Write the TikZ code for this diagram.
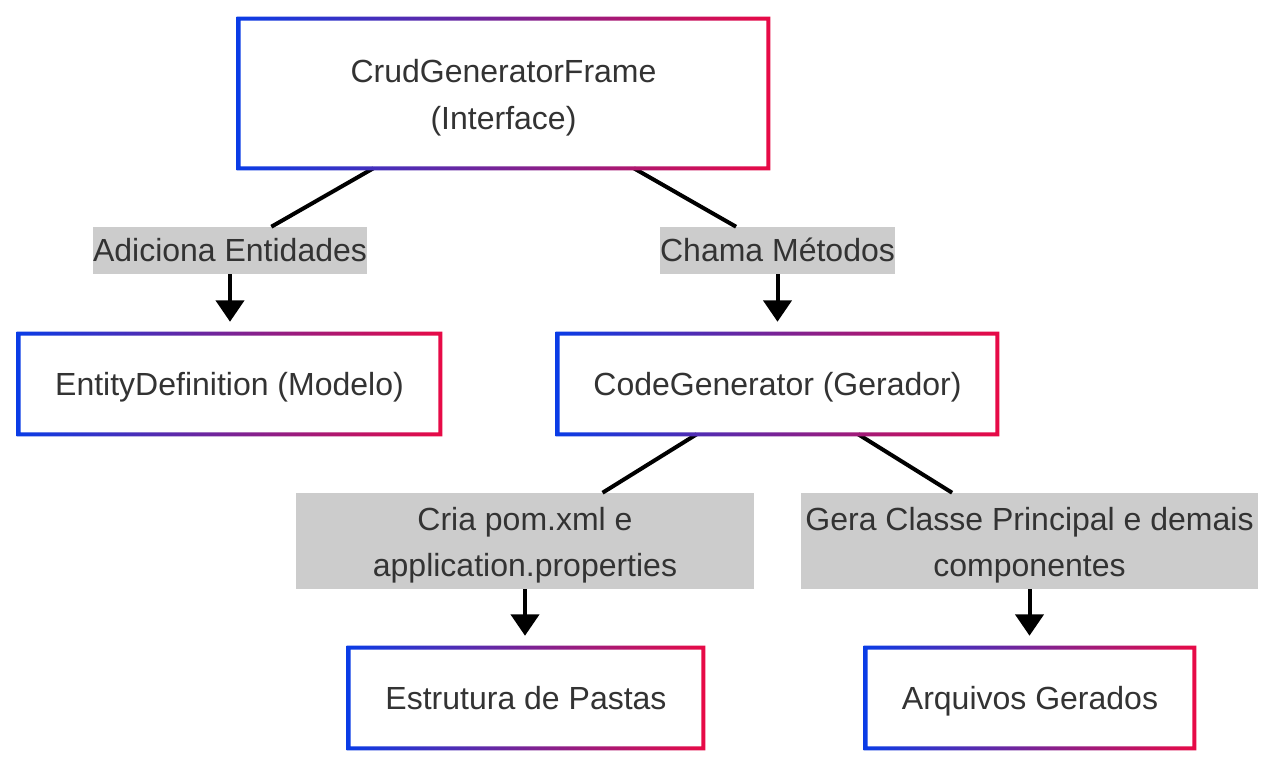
\documentclass[tikz,border=0pt]{standalone}
\usepackage{fontspec}
\setmainfont{Liberation Sans}
\usetikzlibrary{arrows.meta}
\definecolor{gA}{RGB}{10,60,230}
\definecolor{gB}{RGB}{232,10,70}
\definecolor{lbl}{RGB}{204,204,204}
\definecolor{txt}{RGB}{51,51,51}
\newcommand{\gborder}[1]{%
  \shade[left color=gA,right color=gB,even odd rule]
    ([shift={(-1.5pt,1.5pt)}]#1.north west) rectangle ([shift={(1.5pt,-1.5pt)}]#1.south east)
    ([shift={(1.5pt,-1.5pt)}]#1.north west) rectangle ([shift={(-1.5pt,1.5pt)}]#1.south east);}
\begin{document}
\begin{tikzpicture}[x=0.75pt,y=-0.75pt,
  box/.style={draw=none, fill=white, text=txt, font=\fontsize{24pt}{35pt}\selectfont, align=center, inner sep=0pt, text height=22pt, text depth=4.8pt},
  lab/.style={fill=lbl, text=txt, font=\fontsize{24pt}{35pt}\selectfont, align=center, inner sep=0pt, text height=22pt, text depth=4.8pt},
  two/.style={text height=58pt, text depth=4.5pt},
  conn/.style={line width=3pt, black},
  arr/.style={conn, -{Triangle[length=16pt,width=21pt]}, shorten >=9pt}]
\useasboundingbox (0,0) rectangle (1280,770);
\fill[white] (0,0) rectangle (1280,770);

\node[box, two, minimum width=396.75pt, minimum height=111.75pt] (top) at (503.5,93.5) {CrudGeneratorFrame\\(Interface)};
\node[box, minimum width=315.75pt, minimum height=75pt] (ent) at (229.5,384) {EntityDefinition (Modelo)};
\node[box, minimum width=329.25pt, minimum height=75pt] (cg) at (777.5,384) {CodeGenerator (Gerador)};
\node[box, minimum width=265.5pt, minimum height=75pt] (est) at (526,698) {Estrutura de Pastas};
\node[box, minimum width=246pt, minimum height=75pt] (arq) at (1030,698) {Arquivos Gerados};

\node[lab, minimum width=205.5pt, minimum height=35.25pt] (l1) at (230,250.5) {Adiciona Entidades};
\node[lab, minimum width=176.25pt, minimum height=35.25pt] (l2) at (777.5,250.5) {Chama Métodos};
\node[lab, two, minimum width=343.5pt, minimum height=72pt] (l3) at (525,541) {Cria pom.xml e\\application.properties};
\node[lab, two, minimum width=342.75pt, minimum height=72pt] (l4) at (1029.5,541) {Gera Classe Principal e demais\\componentes};

\draw[conn] (top) -- (l1);
\draw[arr] (l1.south) -- (l1.south |- ent.north);
\draw[conn] (top) -- (l2);
\draw[arr] (l2.south) -- (l2.south |- cg.north);
\draw[conn] (cg) -- (l3);
\draw[arr] (l3.south) -- (l3.south |- est.north);
\draw[conn] (cg) -- (l4);
\draw[arr] (l4.south) -- (l4.south |- arq.north);

\gborder{top}
\gborder{ent}
\gborder{cg}
\gborder{est}
\gborder{arq}
\end{tikzpicture}
\end{document}
